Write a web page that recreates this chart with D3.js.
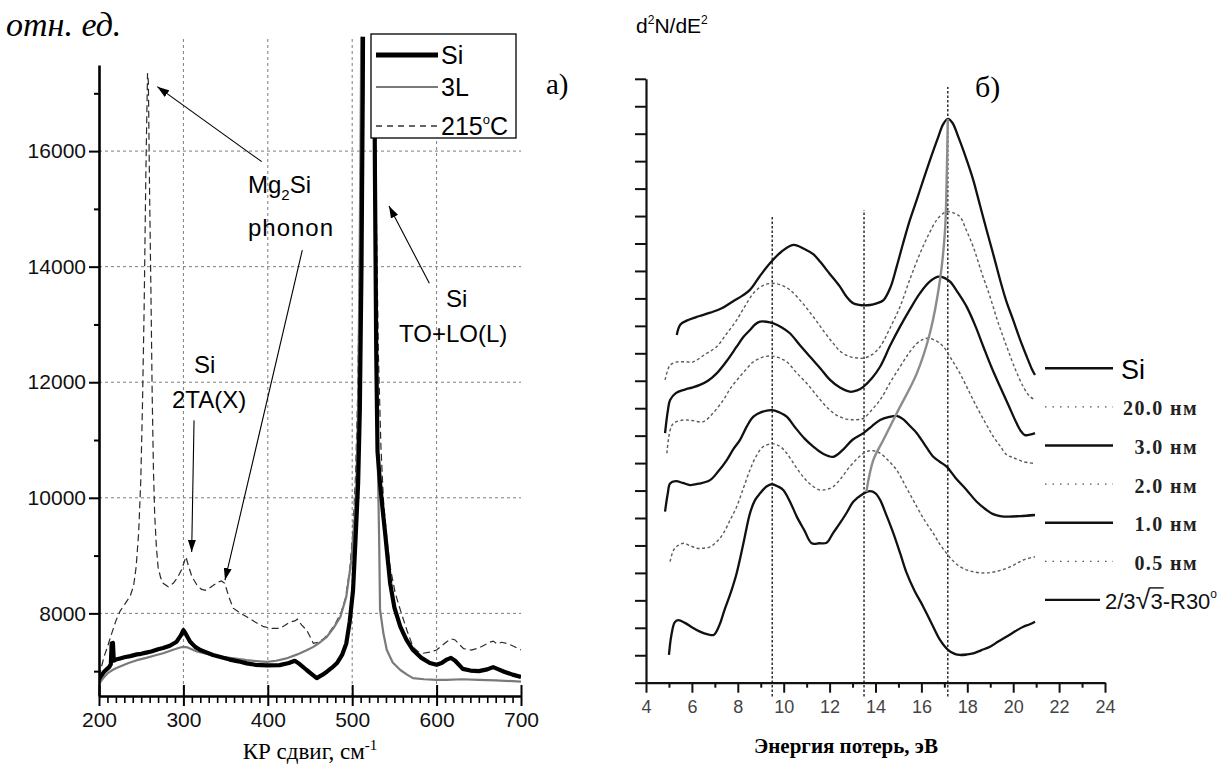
<!DOCTYPE html>
<html>
<head>
<meta charset="utf-8">
<script src="https://cdn.jsdelivr.net/npm/d3@7"></script>
<style>
  body { margin: 0; background: #fff; }
  svg { display: block; }
</style>
</head>
<body>
<svg id="fig" width="1219" height="766"></svg>
<script>
// ===================== Panel a: Raman spectra =====================
const shiftTicks = [200, 300, 400, 500, 600, 700];
const shiftGrid = [300, 400, 500, 600];
const intensityTicks = [8000, 10000, 12000, 14000, 16000];
const intensityMinor = [7000, 9000, 11000, 13000, 15000, 17000];

// Si substrate
const ramanSi = [
  [200,6860],[203,6930],[206,6990],[209,7030],[212,7070],[214,7120],[215,7480],[216.5,7490],[217.5,7180],
  [220,7200],[225,7220],[230,7240],[237,7260],[245,7290],[250,7300],[256,7320],[262,7340],[270,7380],
  [276,7400],[284,7440],[292,7510],[297,7620],[300,7710],[303,7640],[308,7510],[314,7420],[320,7365],
  [328,7320],[335,7280],[345,7240],[355,7200],[365,7170],[375,7135],[385,7110],[399,7100],[414,7105],
  [425,7140],[432,7180],[437,7130],[446,7020],[452,6950],[458,6880],[464,6930],[470,6990],[476,7060],
  [482,7140],[488,7280],[493,7480],[497,7850],[501,8400],[504,9300],[507,10250],[509,11500],[511,14000],
  [512.5,17000],[514,22000],[519,60000],[524,25000],[526,18000],[527,15500],[528.5,12500],[530,10800],
  [533,10250],[536,9800],[539,9390],[542,8950],[545,8520],[550,8100],[557,7770],[564,7550],[572,7365],
  [582,7230],[592,7140],[600,7110],[606,7140],[612,7200],[617,7230],[622,7180],[631,7040],[640,7010],
  [650,7000],[660,7030],[667,7070],[672,7040],[680,6990],[690,6940],[700,6900]
];
// 3 layers
const ramanL3 = [
  [200,6780],[205,6880],[210,6960],[215,7010],[220,7050],[225,7080],[235,7140],[245,7190],[256,7230],
  [266,7270],[276,7310],[288,7370],[296,7410],[300,7420],[305,7410],[316,7340],[330,7290],[343,7250],
  [360,7220],[375,7190],[390,7170],[399,7160],[410,7180],[422,7220],[435,7290],[446,7360],[454,7420],
  [462,7500],[470,7595],[478,7750],[486,7940],[493,8290],[499,8920],[503,9670],[505,10250],[507,11500],
  [509,14500],[510.5,17500],[512,22000],[518,60000],[524,26000],[526,19000],[527.5,15000],[529,12000],
  [530.5,10500],[532,9200],[533,8060],[537,7650],[541,7365],[548,7150],[557,7020],[565,6940],[572,6880],
  [585,6860],[600,6850],[612,6850],[630,6860],[650,6850],[670,6840],[700,6820]
];
// annealed at 215 °C
const ramanT215 = [
  [200,6900],[203,7080],[206,7250],[210,7420],[215,7650],[220,7870],[225,8040],[231,8170],[237,8300],
  [241,8480],[244,8800],[247,9400],[249.5,10300],[251.5,11600],[253.5,13300],[255.5,15600],[257.5,17350],
  [258.5,17200],[260,15200],[261.5,13600],[263,11800],[264.5,10500],[266,9700],[268,9150],[270,8800],
  [273,8620],[276,8520],[282,8460],[288,8520],[293,8620],[298,8760],[303,8980],[306,8820],[310,8640],
  [316,8490],[321,8420],[326,8400],[331,8440],[336,8490],[341,8540],[345,8560],[349,8520],[354,8280],
  [359,8090],[367,8010],[375,7940],[385,7850],[395,7770],[405,7740],[414,7740],[420,7790],[426,7850],
  [432,7870],[435,7900],[440,7800],[446,7710],[450,7600],[454,7480],[460,7500],[466,7560],[472,7650],
  [480,7820],[487,8020],[492,8260],[497,8750],[501,9450],[504,10400],[506.5,11800],[508.5,13800],
  [510,16000],[512,20000],[518,60000],[524,30000],[526.5,19000],[528.5,15000],[531,12500],[534,10900],
  [537,9960],[541,9300],[545,8800],[551,8350],[557,8060],[565,7700],[572,7420],[578,7340],[584,7310],
  [592,7330],[600,7365],[606,7440],[612,7510],[617,7560],[622,7540],[627,7460],[632,7390],[641,7365],
  [650,7400],[658,7460],[663,7500],[667,7520],[672,7470],[677,7500],[683,7480],[690,7440],[700,7365]
];

// peak annotations: arrows in data units
const ramanArrows = [
  { from: [392.8, 15817], to: [269.1, 17115] },
  { from: [440.9, 14288], to: [349.3, 8577] },
  { from: [312.6, 11340], to: [309.8, 9062] },
  { from: [591.4, 13712], to: [543.6, 15050] }
];

// ===================== Panel b: EELS second derivative =====================
const energyTicks = [4, 6, 8, 10, 12, 14, 16, 18, 20, 22, 24];
const energyMinor = [5, 7, 9, 11, 13, 15, 17, 19, 21, 23];
const eelsLevels = d3.range(0, 23);
const eelsMarkers = [[9.5, 16.97], [13.5, 17.22], [17.15, 21.7]];   // energy, top of the guide line

const eelsSi = [
  [5.34,12.67],[5.5,13.05],[5.8,13.2],[6.3,13.35],[6.8,13.48],[7.3,13.64],[7.8,13.9],[8.2,14.1],[8.53,14.31],
  [8.95,14.8],[9.4,15.28],[9.9,15.7],[10.42,15.95],[10.9,15.8],[11.3,15.6],[11.58,15.34],[12.0,14.9],
  [12.45,14.43],[12.75,14.05],[13.03,13.82],[13.4,13.75],[13.76,13.76],[14.05,13.82],[14.35,13.94],
  [14.65,14.4],[14.92,15.15],[15.2,16.0],[15.5,16.86],[15.8,17.6],[16.08,18.31],[16.4,19.1],[16.7,19.8],
  [16.95,20.35],[17.15,20.54],[17.35,20.4],[17.6,19.9],[17.95,19.1],[18.26,18.31],[18.55,17.4],[18.84,16.49],
  [19.15,15.55],[19.43,14.67],[19.7,13.9],[20.0,13.21],[20.3,12.5],[20.59,11.88],[20.8,11.45],[20.95,11.21]
];
const eels200 = [
  [4.83,11.03],[4.95,11.4],[5.05,11.57],[5.3,11.68],[5.7,11.69],[6.06,11.69],[6.55,11.95],[7.08,12.24],
  [7.5,12.7],[7.95,13.21],[8.3,13.7],[8.68,14.19],[9.05,14.45],[9.48,14.55],[9.9,14.48],[10.27,14.31],
  [10.8,13.85],[11.29,13.33],[11.75,12.8],[12.16,12.36],[12.5,12.05],[12.88,11.88],[13.2,11.83],[13.47,11.82],
  [13.85,11.95],[14.2,12.24],[14.65,12.95],[15.07,13.7],[15.5,14.7],[15.94,15.64],[16.3,16.3],[16.67,16.86],
  [16.95,17.1],[17.17,17.16],[17.45,17.1],[17.68,16.98],[17.95,16.5],[18.26,15.88],[18.6,15.0],[18.99,14.06],
  [19.35,13.1],[19.72,12.24],[20.1,11.4],[20.44,10.78],[20.7,10.45],[20.95,10.3]
];
const eels30 = [
  [4.83,9.09],[4.95,9.9],[5.05,10.3],[5.3,10.55],[5.7,10.68],[6.0,10.75],[6.35,10.85],[6.7,11.0],[7.08,11.27],
  [7.5,11.7],[7.95,12.24],[8.25,12.6],[8.53,12.85],[8.75,13.05],[8.97,13.15],[9.25,13.15],[9.55,13.09],
  [9.9,12.95],[10.27,12.73],[10.7,12.3],[11.14,11.88],[11.6,11.45],[12.02,11.03],[12.45,10.75],[12.88,10.6],
  [13.2,10.65],[13.47,10.78],[13.85,11.1],[14.2,11.51],[14.65,12.3],[15.07,12.97],[15.5,13.6],[15.94,14.19],
  [16.35,14.6],[16.74,14.79],[17.0,14.75],[17.25,14.61],[17.6,14.2],[17.97,13.7],[18.35,13.0],[18.7,12.24],
  [19.05,11.5],[19.43,10.78],[19.8,10.1],[20.15,9.45],[20.35,9.15],[20.51,9.02],[20.95,9.09]
];
const eels20 = [
  [4.91,8.36],[5.05,9.2],[5.2,9.45],[5.63,9.57],[6.0,9.55],[6.5,9.51],[6.95,9.85],[7.37,10.3],[7.7,10.75],
  [8.09,11.15],[8.4,11.45],[8.68,11.69],[9.05,11.85],[9.4,11.9],[9.75,11.85],[10.13,11.69],[10.55,11.3],
  [11.0,10.91],[11.45,10.45],[11.87,10.05],[12.3,9.75],[12.74,9.6],[13.1,9.58],[13.47,9.63],[13.85,9.95],
  [14.2,10.3],[14.65,10.95],[15.07,11.51],[15.45,12.0],[15.8,12.36],[16.05,12.5],[16.3,12.55],[16.65,12.45],
  [16.96,12.24],[17.3,11.8],[17.68,11.27],[18.05,10.65],[18.41,10.05],[18.8,9.45],[19.14,8.96],[19.45,8.6],
  [19.72,8.3],[20.0,8.2],[20.44,8.05],[20.95,7.99]
];
const eels10 = [
  [4.83,6.23],[4.95,6.9],[5.05,7.26],[5.3,7.34],[5.6,7.28],[5.92,7.2],[6.3,7.25],[6.79,7.38],[7.15,7.7],
  [7.52,8.11],[7.8,8.5],[8.09,8.84],[8.4,9.35],[8.68,9.69],[9.0,9.85],[9.48,9.93],[9.8,9.85],[10.13,9.69],
  [10.5,9.3],[10.9,8.9],[11.29,8.6],[11.7,8.35],[12.16,8.23],[12.6,8.5],[13.0,8.85],[13.47,9.09],[13.85,9.35],
  [14.2,9.57],[14.6,9.68],[14.92,9.72],[15.2,9.6],[15.5,9.35],[15.8,9.09],[16.2,8.6],[16.52,8.23],[16.8,8.05],
  [17.1,7.87],[17.5,7.45],[17.97,7.02],[18.4,6.6],[18.84,6.29],[19.1,6.15],[19.43,6.07],[19.8,6.05],
  [20.3,6.07],[20.95,6.11]
];
const eels05 = [
  [5.05,4.41],[5.2,4.83],[5.4,5.0],[5.63,5.08],[5.9,5.0],[6.21,4.9],[6.5,4.9],[6.79,4.95],[7.1,5.15],
  [7.37,5.44],[7.65,5.9],[7.95,6.41],[8.25,7.1],[8.53,7.75],[8.8,8.25],[9.11,8.6],[9.55,8.7],[9.85,8.6],
  [10.13,8.36],[10.5,7.9],[10.85,7.5],[11.2,7.2],[11.58,7.02],[11.9,7.05],[12.16,7.14],[12.5,7.45],
  [12.88,7.87],[13.25,8.2],[13.61,8.42],[13.9,8.45],[14.2,8.36],[14.55,8.1],[14.92,7.75],[15.35,7.1],
  [15.8,6.41],[16.15,5.9],[16.52,5.44],[16.8,5.05],[17.1,4.71],[17.4,4.42],[17.68,4.23],[18.0,4.1],
  [18.26,4.04],[18.6,4.0],[18.99,4.01],[19.35,4.07],[19.72,4.17],[20.1,4.32],[20.44,4.47],[20.95,4.59]
];
const eelsR30 = [
  [5.0,1.01],[5.1,1.7],[5.25,2.2],[5.4,2.28],[5.7,2.18],[6.0,2.02],[6.35,1.86],[6.7,1.76],[6.95,1.74],
  [7.2,2.1],[7.4,2.6],[7.7,3.3],[7.95,3.99],[8.25,5.1],[8.53,6.17],[8.75,6.65],[8.97,6.9],[9.25,7.15],
  [9.48,7.23],[9.75,7.15],[9.98,7.02],[10.3,6.55],[10.57,6.05],[10.9,5.55],[11.22,5.08],[11.55,5.08],
  [11.87,5.1],[12.15,5.45],[12.45,5.81],[12.75,6.2],[13.03,6.59],[13.4,6.85],[13.76,6.98],[14.0,6.9],
  [14.2,6.66],[14.5,6.05],[14.78,5.44],[15.08,4.7],[15.36,3.99],[15.7,3.35],[16.08,2.77],[16.45,2.15],
  [16.81,1.56],[17.17,1.19],[17.45,1.05],[17.68,1.01],[18.0,1.03],[18.26,1.07],[18.6,1.18],[18.99,1.31],
  [19.35,1.5],[19.72,1.68],[20.1,1.88],[20.44,2.04],[20.7,2.12],[20.95,2.22]
];
// plasmon peak position versus coverage
const plasmonTrack = [
  [13.6,6.95],[13.9,8.1],[14.34,8.84],[14.92,9.81],[15.8,11.27],[16.37,12.73],[16.81,14.67],
  [17.03,16.49],[17.1,18.31],[17.15,20.54]
];
const eelsSeries = [
  { name: "Si",   data: eelsSi,  dotted: false },
  { name: "20.0", data: eels200, dotted: true },
  { name: "3.0",  data: eels30,  dotted: false },
  { name: "2.0",  data: eels20,  dotted: true },
  { name: "1.0",  data: eels10,  dotted: false },
  { name: "0.5",  data: eels05,  dotted: true },
  { name: "R30",  data: eelsR30, dotted: false }
];

// ===================== drawing =====================
const svg = d3.select("#fig");
const sans = '"Liberation Sans", Arial, Helvetica, sans-serif';
const serif = '"Liberation Serif", "Times New Roman", Times, serif';

// ---------- panel a ----------
const xA = d3.scaleLinear().domain([200, 700]).range([99, 521]);
const yA = d3.scaleLinear().domain([6570, 17490]).range([696, 65]);
const yAreaTop = 17980;          // the plotting area runs a little above the last tick

const gA = svg.append("g");

gA.append("clipPath").attr("id", "clipA").append("rect")
  .attr("x", xA(200)).attr("y", yA(yAreaTop))
  .attr("width", xA(700) - xA(200)).attr("height", yA(6570) - yA(yAreaTop));

// dashed grid
gA.append("g").selectAll("line").data(intensityTicks).join("line")
  .attr("x1", xA(200)).attr("x2", xA(700))
  .attr("y1", d => yA(d)).attr("y2", d => yA(d))
  .attr("stroke", "#7d7d7d").attr("stroke-width", 1).attr("stroke-dasharray", "3,3");
gA.append("g").selectAll("line").data(shiftGrid).join("line")
  .attr("x1", d => xA(d)).attr("x2", d => xA(d))
  .attr("y1", yA(6570)).attr("y2", yA(yAreaTop))
  .attr("stroke", "#7d7d7d").attr("stroke-width", 1).attr("stroke-dasharray", "3,3");

const lineA = d3.line().x(d => xA(d[0])).y(d => yA(d[1]));
const curvesA = gA.append("g").attr("clip-path", "url(#clipA)");
curvesA.append("path").datum(ramanT215).attr("d", lineA)
  .attr("fill", "none").attr("stroke", "#2a2a2a").attr("stroke-width", 1.2)
  .attr("stroke-dasharray", "7,4");
curvesA.append("path").datum(ramanL3).attr("d", lineA)
  .attr("fill", "none").attr("stroke", "#7a7a7a").attr("stroke-width", 2.2)
  .attr("stroke-linejoin", "round");
curvesA.append("path").datum(ramanSi).attr("d", lineA)
  .attr("fill", "none").attr("stroke", "#000").attr("stroke-width", 4.2)
  .attr("stroke-linejoin", "round");

// axes
const axA_x = gA.append("g").attr("transform", `translate(0,${yA(6570)})`)
  .call(d3.axisBottom(xA).tickValues(shiftTicks).tickSize(10).tickSizeOuter(0).tickPadding(6)
    .tickFormat(d3.format("d")));
axA_x.selectAll(".tick line").attr("stroke-width", 2);
axA_x.append("g").call(d3.axisBottom(xA).tickValues(shiftTicks).tickSize(-11).tickFormat(""))
  .call(g => g.select(".domain").remove())
  .selectAll(".tick line").attr("stroke-width", 2);
axA_x.append("g").call(d3.axisBottom(xA).tickValues(d3.range(210, 700, 10).filter(v => v % 100)).tickSize(7).tickFormat(""))
  .call(g => g.select(".domain").remove())
  .selectAll(".tick line").attr("stroke-width", 1.6);
axA_x.select(".domain").attr("stroke-width", 2.6);
axA_x.selectAll("text").attr("font-family", sans).attr("font-size", 21).attr("fill", "#111");

const axA_y = gA.append("g").attr("transform", `translate(${xA(200)},0)`)
  .call(d3.axisLeft(yA).tickValues(intensityTicks).tickSize(10).tickSizeOuter(0).tickPadding(3)
    .tickFormat(d3.format("d")));
axA_y.append("g").call(d3.axisLeft(yA).tickValues(intensityMinor).tickSize(5).tickFormat(""))
  .call(g => g.select(".domain").remove());
axA_y.select(".domain").attr("stroke-width", 2.6);
axA_y.selectAll(".tick line").attr("stroke-width", 2);
axA_y.selectAll("text").attr("font-family", sans).attr("font-size", 21).attr("fill", "#111");

// legend
const legA = gA.append("g");
legA.append("rect").attr("x", 371).attr("y", 34).attr("width", 145).attr("height", 104)
  .attr("fill", "#fff").attr("stroke", "#000").attr("stroke-width", 1.3);
const legAItems = [
  { label: "Si", stroke: "#000", width: 5, dash: null },
  { label: "3L", stroke: "#7a7a7a", width: 2, dash: null },
  { label: "215", stroke: "#333", width: 1.3, dash: "6,5" }
];
legAItems.forEach((it, i) => {
  const y = [55, 87, 126][i];
  legA.append("line").attr("x1", 376).attr("x2", 438).attr("y1", y).attr("y2", y)
    .attr("stroke", it.stroke).attr("stroke-width", it.width).attr("stroke-dasharray", it.dash);
  const t = legA.append("text").attr("x", 441).attr("y", y + 8.5)
    .attr("font-family", sans).attr("font-size", 25).attr("fill", "#000");
  if (it.label === "215") {
    t.append("tspan").text("215");
    t.append("tspan").text("o").attr("font-size", 13).attr("dy", -11);
    t.append("tspan").text("C").attr("dy", 11);
  } else {
    t.text(it.label);
  }
});

// arrows
const defs = svg.append("defs");
defs.append("marker").attr("id", "head").attr("viewBox", "0 0 12 8")
  .attr("refX", 12).attr("refY", 4).attr("markerWidth", 12).attr("markerHeight", 8)
  .attr("markerUnits", "userSpaceOnUse").attr("orient", "auto")
  .append("path").attr("d", "M0,0 L12,4 L0,8 Z").attr("fill", "#000");
gA.append("g").selectAll("line").data(ramanArrows).join("line")
  .attr("x1", d => xA(d.from[0])).attr("y1", d => yA(d.from[1]))
  .attr("x2", d => xA(d.to[0])).attr("y2", d => yA(d.to[1]))
  .attr("stroke", "#000").attr("stroke-width", 1.1).attr("marker-end", "url(#head)");

// peak labels
const noteA = gA.append("g").attr("font-family", sans).attr("font-size", 24).attr("fill", "#000");
const mg = noteA.append("text").attr("x", xA(376.5)).attr("y", yA(15275));
mg.append("tspan").text("Mg");
mg.append("tspan").text("2").attr("font-size", 15).attr("dy", 7);
mg.append("tspan").text("Si").attr("dy", -7);
noteA.append("text").attr("x", xA(376.5)).attr("y", yA(14531)).attr("letter-spacing", 1).text("phonon");
noteA.append("text").attr("x", xA(611)).attr("y", yA(13302)).text("Si");
noteA.append("text").attr("x", xA(555.5)).attr("y", yA(12696)).text("TO+LO(L)");
noteA.append("text").attr("x", xA(312.6)).attr("y", yA(12160)).text("Si");
noteA.append("text").attr("x", xA(286.5)).attr("y", yA(11554)).text("2TA(X)");

// titles
svg.append("text").attr("x", 6).attr("y", 36).attr("font-family", serif)
  .attr("font-style", "italic").attr("font-size", 34).text("отн. ед.");
svg.append("text").attr("x", 546).attr("y", 94).attr("font-family", serif)
  .attr("font-size", 29).text("а)");
const xtA = svg.append("text").attr("x", 310).attr("y", 759).attr("text-anchor", "middle")
  .attr("font-family", serif).attr("font-size", 23);
xtA.append("tspan").text("КР сдвиг, см");
xtA.append("tspan").text("-1").attr("font-size", 15).attr("dy", -9);

// ---------- panel b ----------
const xB = d3.scaleLinear().domain([4, 24]).range([646, 1105]);
const yB = d3.scaleLinear().domain([0, 22]).range([682.7, 78.8]);
const gB = svg.append("g");

// guide lines at the characteristic energies
gB.append("g").selectAll("line").data(eelsMarkers).join("line")
  .attr("x1", d => xB(d[0])).attr("x2", d => xB(d[0]))
  .attr("y1", yB(-0.5)).attr("y2", d => yB(d[1]))
  .attr("stroke", "#222").attr("stroke-width", 1.4).attr("stroke-dasharray", "2.5,2");

const lineB = d3.line().x(d => xB(d[0])).y(d => yB(d[1])).curve(d3.curveCatmullRom.alpha(0.5));
gB.append("g").selectAll("path").data(eelsSeries).join("path")
  .attr("d", d => lineB(d.data))
  .attr("fill", "none")
  .attr("stroke", d => d.dotted ? "#5a5a5a" : "#111")
  .attr("stroke-width", d => d.dotted ? 1.4 : 2.3)
  .attr("stroke-dasharray", d => d.dotted ? "3,2.5" : null)
  .attr("stroke-linejoin", "round");
gB.append("path").datum(plasmonTrack).attr("d", lineB)
  .attr("fill", "none").attr("stroke", "#8c8c8c").attr("stroke-width", 2.4);

// axes
const axB_x = gB.append("g").attr("transform", `translate(0,${yB(0)})`)
  .call(d3.axisBottom(xB).tickValues(energyTicks).tickSize(10).tickSizeOuter(0).tickPadding(8));
axB_x.append("g").call(d3.axisBottom(xB).tickValues(energyMinor).tickSize(5).tickFormat(""))
  .call(g => g.select(".domain").remove());
axB_x.select(".domain").attr("stroke-width", 2.2).attr("stroke", "#111");
axB_x.selectAll(".tick line").attr("stroke-width", 2).attr("stroke", "#111");
axB_x.selectAll("text").attr("font-family", sans).attr("font-size", 18).attr("fill", "#444");

const axB_y = gB.append("g").attr("transform", `translate(${xB(4)},0)`)
  .call(d3.axisLeft(yB).tickValues(eelsLevels).tickSize(11).tickSizeOuter(0).tickFormat(""));
axB_y.select(".domain").attr("stroke-width", 2.2).attr("stroke", "#111");
axB_y.selectAll(".tick line").attr("stroke-width", 2).attr("stroke", "#111");

// legend
const legB = gB.append("g");
const legBy = d3.range(7).map(i => 368.3 + i * 38.6);
eelsSeries.forEach((s, i) => {
  const y = legBy[i];
  legB.append("line").attr("x1", 1045).attr("x2", i === 6 ? 1100 : 1113).attr("y1", y).attr("y2", y)
    .attr("stroke", s.dotted ? "#555" : "#111")
    .attr("stroke-width", s.dotted ? 1.3 : 2.4)
    .attr("stroke-dasharray", s.dotted ? "1.5,6" : null);
});
legB.append("text").attr("x", 1121).attr("y", legBy[0] + 11).attr("font-family", sans)
  .attr("font-size", 27).text("Si");
eelsSeries.slice(1, 6).forEach((s, i) => {
  legB.append("text").attr("x", 1198).attr("y", legBy[i + 1] + 8.5).attr("text-anchor", "end")
    .attr("font-family", serif).attr("font-weight", "bold").attr("font-size", 20)
    .attr("letter-spacing", 1.4).attr("fill", "#222").text(s.name + " нм");
});
const r30 = legB.append("text").attr("x", 1105).attr("y", legBy[6] + 9)
  .attr("font-family", sans).attr("font-size", 22).attr("fill", "#111");
r30.append("tspan").text("2/3");
r30.append("tspan").text("√").attr("font-size", 27);
r30.append("tspan").text("3");
r30.append("tspan").text("-R30");
r30.append("tspan").text("o").attr("font-size", 12).attr("dy", -11);
// bar of the radical over its argument
{
  const node = r30.node();
  const i0 = "2/3√".length;
  const s = node.getStartPositionOfChar(i0), e = node.getEndPositionOfChar(i0);
  legB.append("line").attr("x1", s.x - 1).attr("x2", e.x + 1)
    .attr("y1", legBy[6] - 12).attr("y2", legBy[6] - 12)
    .attr("stroke", "#111").attr("stroke-width", 1.4);
}

// titles
const yt = svg.append("text").attr("x", 636).attr("y", 33).attr("font-family", sans).attr("font-size", 21);
yt.append("tspan").text("d");
yt.append("tspan").text("2").attr("font-size", 12).attr("dy", -9);
yt.append("tspan").text("N/dE").attr("dy", 9);
yt.append("tspan").text("2").attr("font-size", 12).attr("dy", -9);
svg.append("text").attr("x", 975).attr("y", 97).attr("font-family", serif).attr("font-size", 30).text("б)");
svg.append("text").attr("x", 846).attr("y", 753).attr("text-anchor", "middle")
  .attr("font-family", serif).attr("font-weight", "bold").attr("font-size", 21)
  .text("Энергия потерь, эВ");
</script>
</body>
</html>
